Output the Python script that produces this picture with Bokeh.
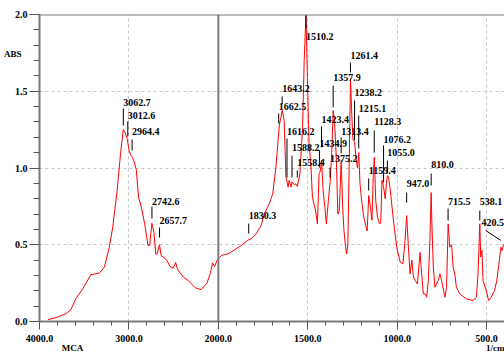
import numpy as np
from bokeh.plotting import figure
from bokeh.models import FixedTicker, Span, Range1d, PrintfTickFormatter, ColumnDataSource, LinearAxis
from bokeh.core.properties import value
from bokeh.embed import file_html
from bokeh.resources import INLINE

# ---- spectrum (wavenumber 1/cm, absorbance) ----
wavenumber = [3906, 3820, 3707, 3650, 3594, 3519, 3425, 3331, 3275, 3219, 3181, 3132, 3094, 3063, 3042,
              3019, 2997, 2974, 2964, 2944, 2918, 2892, 2861, 2824, 2786, 2768, 2743, 2720, 2700, 2685,
              2658, 2640, 2617, 2580, 2542, 2504, 2478, 2456, 2391, 2335, 2260, 2193, 2128, 2091, 2064,
              2042, 2016, 2000, 1983, 1946, 1909, 1872, 1835, 1817, 1789, 1761, 1743, 1715, 1696, 1678,
              1659, 1650, 1643, 1632, 1622, 1616, 1610, 1604, 1594, 1588, 1575, 1567, 1558, 1544, 1529,
              1520, 1510, 1502, 1493, 1483, 1474, 1456, 1446, 1437, 1430, 1423, 1414, 1405, 1396, 1384,
              1375, 1366, 1358, 1350, 1340, 1332, 1324, 1318, 1313, 1305, 1298, 1290, 1283, 1276, 1268,
              1261, 1254, 1247, 1238, 1230, 1222, 1215, 1208, 1200, 1187, 1168, 1159, 1150, 1141, 1134,
              1128, 1120, 1110, 1100, 1092, 1085, 1076, 1067, 1060, 1055, 1048, 1039, 1021, 1002, 983,
              968, 956, 947, 937, 928, 918, 909, 900, 887, 872, 863, 854, 844, 835, 826,
              817, 810, 806, 798, 789, 771, 761, 752, 733, 724, 715, 706, 696, 687, 678,
              669, 650, 613, 576, 557, 548, 538, 533, 526, 520, 502, 489, 474, 456, 443,
              432, 420, 413, 406]
absorbance = [0.013, 0.024, 0.05, 0.076, 0.148, 0.21, 0.305, 0.315, 0.354, 0.484, 0.614, 0.853, 1.092, 1.25, 1.23,
              1.19, 1.11, 1.08, 1.07, 1.045, 0.99, 0.81, 0.745, 0.636, 0.495, 0.495, 0.64, 0.58, 0.44, 0.44,
              0.50, 0.43, 0.419, 0.402, 0.36, 0.347, 0.385, 0.339, 0.289, 0.267, 0.22, 0.208, 0.25, 0.311, 0.382,
              0.358, 0.397, 0.41, 0.43, 0.441, 0.467, 0.495, 0.53, 0.539, 0.571, 0.625, 0.702, 0.767, 0.832, 1.005,
              1.28, 1.33, 1.375, 1.31, 0.94, 0.91, 0.875, 0.92, 0.875, 0.91, 0.89, 0.897, 0.88, 0.962, 1.266,
              1.70, 2.0, 1.59, 1.158, 1.03, 0.81, 0.72, 0.636, 0.96, 0.98, 1.05, 0.85, 0.75, 0.636, 0.80,
              0.91, 1.10, 1.375, 1.30, 1.05, 0.70, 0.72, 0.90, 1.05, 0.75, 0.60, 0.50, 0.44, 0.50, 1.05,
              1.58, 1.35, 1.18, 1.17, 1.06, 1.00, 1.10, 0.90, 0.80, 0.68, 0.59, 0.82, 0.75, 0.66, 0.95,
              1.07, 0.79, 0.68, 0.64, 0.64, 0.92, 0.875, 0.80, 0.90, 0.95, 0.94, 0.86, 0.66, 0.48, 0.386,
              0.376, 0.53, 0.69, 0.48, 0.31, 0.40, 0.29, 0.267, 0.245, 0.45, 0.31, 0.18, 0.18, 0.158, 0.267,
              0.53, 0.84, 0.64, 0.354, 0.223, 0.267, 0.31, 0.267, 0.158, 0.223, 0.636, 0.484, 0.50, 0.354, 0.31,
              0.223, 0.18, 0.147, 0.137, 0.158, 0.31, 0.636, 0.42, 0.463, 0.267, 0.202, 0.137, 0.158, 0.202, 0.267,
              0.37, 0.484, 0.463, 0.50]

# ---- peak annotations ----
peak_wn = [3062.7, 3012.6, 2964.4, 2742.6, 2657.7, 1830.3, 1662.5, 1643.2, 1616.2, 1588.2, 1558.4, 1510.2,
           1434.9, 1423.4, 1375.2, 1357.9, 1313.4, 1261.4, 1238.2, 1215.1, 1159.4, 1128.3, 1076.2, 1055.0,
           947.0, 810.0, 715.5, 538.1, 420.5]
text_wn = [3062.7, 3012.6, 2964.4, 2742.6, 2657.7, 1830.3, 1662.5, 1643.2, 1616.2, 1588.2, 1558.4, 1510.2,
           1434.9, 1423.4, 1375.2, 1357.9, 1313.4, 1261.4, 1238.2, 1215.1, 1159.4, 1128.3, 1076.2, 1055.0,
           947.0, 810.0, 715.5, 538.1, 528.0]
text_level = [1.407, 1.316, 1.218, 0.762, 0.638, 0.669, 1.375, 1.492, 1.212, 1.114, 1.016, 1.831,
              1.134, 1.290, 1.036, 1.570, 1.212, 1.713, 1.472, 1.368, 0.964, 1.277, 1.166, 1.075,
              0.873, 0.997, 0.756, 0.756, 0.625]
mark_top_wn = [3062.7, 3012.6, 2964.4, 2742.6, 2657.7, 1830.3, 1662.5, 1643.2, 1616.2, 1588.2, 1558.4, 1510.2,
               1434.9, 1423.4, 1375.2, 1357.9, 1313.4, 1261.4, 1238.2, 1215.1, 1159.4, 1128.3, 1076.2, 1055.0,
               947.0, 810.0, 715.5, 538.1, 505.0]
mark_top = [1.388, 1.303, 1.186, 0.749, 0.612, 0.638, 1.355, 1.466, 1.192, 1.081, 0.984, 1.993,
            1.114, 1.270, 1.003, 1.537, 1.199, 1.687, 1.440, 1.342, 0.932, 1.244, 1.147, 1.049,
            0.840, 0.964, 0.736, 0.723, 0.593]
mark_bottom = [1.277, 1.205, 1.114, 0.671, 0.547, 0.573, 1.290, 1.414, 0.938, 0.938, 0.938, 1.909,
               1.003, 1.134, 0.938, 1.394, 1.094, 1.622, 1.179, 1.127, 0.853, 1.101, 0.906, 0.964,
               0.775, 0.886, 0.658, 0.658, 0.528]

tick_wn = [4000, 3000, 2000, 1500, 1000, 500]
grid_wn = [3000, 1500, 1000, 500]
y_ticks = [0.0, 0.5, 1.0, 1.5, 2.0]
y_caption = ("ABS", 1.745)
x_captions = [("MCA", 185), ("1/cm", 2556)]   # positions on the axis scale


def to_x(w):
    """Spectrometer axis: 4000-2000 compressed 2:1, below 2000 linear."""
    w = np.asarray(w, dtype=float)
    return np.where(w >= 2000, (4000.0 - w) / 2.0, 1000.0 + (2000.0 - w))


FONT = "Liberation Sans Narrow"
AXC = "#7a7a7a"

p = figure(width=504, height=356, x_range=Range1d(0, 2600), y_range=Range1d(0, 2.0),
           output_backend="svg", toolbar_location=None,
           min_border_left=39, min_border_right=0, min_border_top=14, min_border_bottom=35)
p.outline_line_color = None
p.background_fill_color = "white"
p.border_fill_color = "white"

# grids
p.xgrid.ticker = FixedTicker(ticks=[float(v) for v in to_x(grid_wn)])
p.ygrid.ticker = FixedTicker(ticks=[0.5, 1.0, 1.5])
for g in (p.xgrid, p.ygrid):
    g.grid_line_color = "#c4c4c4"
    g.grid_line_dash = "3 3"
    g.grid_line_width = 1

# main axes
xax = p.xaxis[0]
yax = p.yaxis[0]
xt = [int(v) for v in to_x(tick_wn)]
xax.ticker = FixedTicker(ticks=xt, minor_ticks=list(range(0, 2601, 100)))
xax.major_label_overrides = {k: f"{w:.1f}" for k, w in zip(xt, tick_wn)}
yax.ticker = FixedTicker(ticks=y_ticks, minor_ticks=[i / 10 for i in range(21)])
yax.formatter = PrintfTickFormatter(format="%.1f")
for ax in (xax, yax):
    ax.axis_line_color = AXC
    ax.axis_line_width = 2
    ax.major_tick_line_color = "#555555"
    ax.minor_tick_line_color = "#555555"
    ax.major_tick_in = 0
    ax.minor_tick_in = 0
    ax.major_label_text_font = FONT
    ax.major_label_text_font_style = "bold"
    ax.major_label_text_font_size = "10px"
    ax.major_label_text_color = "black"
xax.major_tick_out = 8
xax.minor_tick_out = 4
xax.major_label_standoff = 5
yax.major_tick_out = 10
yax.minor_tick_out = 6
yax.major_label_standoff = 2


def caption_axis(ticks, labels, size, standoff):
    return LinearAxis(ticker=FixedTicker(ticks=ticks, minor_ticks=[]),
                      major_label_overrides=dict(zip(ticks, labels)),
                      axis_line_color=None, major_tick_line_color=None, minor_tick_line_color=None,
                      major_tick_out=0, major_tick_in=0, minor_tick_out=0, minor_tick_in=0,
                      major_label_standoff=standoff, major_label_text_font=FONT,
                      major_label_text_font_style="bold", major_label_text_font_size=size,
                      major_label_text_color="black")


# "ABS" caption at the top left, "MCA" / "1/cm" captions under the axis
p.add_layout(caption_axis([y_caption[1]], [y_caption[0]], "9px", -10), "left")
p.add_layout(caption_axis([c[1] for c in x_captions], [c[0] for c in x_captions], "9px", -2), "below")

# top border and 2000 1/cm scale-change line
p.add_layout(Span(location=2.0, dimension="width", line_color=AXC, line_width=2))
p.add_layout(Span(location=float(to_x([2000])[0]), dimension="height", line_color=AXC, line_width=2))

# spectrum
p.line(to_x(wavenumber), absorbance, line_color="#ff0000", line_width=1)

# peak marks and labels
p.segment(x0=to_x(mark_top_wn), y0=mark_top, x1=to_x(peak_wn), y1=mark_bottom,
          line_color="black", line_width=1)
src = ColumnDataSource(dict(x=to_x(text_wn), y=text_level, t=[f"{w:.1f}" for w in peak_wn]))
p.text(x="x", y="y", text="t", source=src, text_font=value(FONT), text_font_style="bold",
       text_font_size="10px", text_color="black", text_baseline="bottom", text_align="left")

open("out.html", "w").write(file_html(p, INLINE))
